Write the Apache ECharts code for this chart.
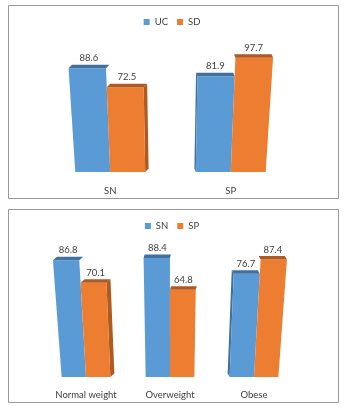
<!DOCTYPE html>
<html><head><meta charset="utf-8">
<script src="https://cdn.jsdelivr.net/npm/echarts@6/dist/echarts.min.js"></script>
<style>html,body{margin:0;padding:0;background:#fff}#c{width:344px;height:406px}</style>
</head><body><div id="c"></div>
<script>
// Panel 1
var cats1 = ['SN', 'SP'];
var uc = [88.6, 81.9];
var sd = [72.5, 97.7];
// Panel 2
var cats2 = ['Normal weight', 'Overweight', 'Obese'];
var sn = [86.8, 88.4, 76.7];
var sp = [70.1, 64.8, 87.4];

var BLUE = '#5B9BD5', BLUE_D = '#41719C', ORANGE = '#ED7D31', ORANGE_D = '#AE5A21';
var FONT = 'Lato, "Liberation Sans", sans-serif';
var CX = 171;

function render(sIdx, nS, frac, light, dark) {
  return function (params, api) {
    var cat = api.value(0), val = api.value(1);
    var topC = api.coord([cat, val]);
    var baseC = api.coord([cat, 0]);
    var cw = api.size([1, 0])[0];
    var bw = cw * frac;
    var x0 = topC[0] - bw * nS / 2 + sIdx * bw, x1 = x0 + bw;
    var h = baseC[1] - topC[1];
    var kk = 0.00068;
    function lean(x) { return x + (x - CX) * h * kk; }
    var TL = [lean(x0), topC[1]], TR = [lean(x1), topC[1]];
    var BL = [x0, baseC[1]], BR = [x1, baseC[1]];
    var gc = topC[0] - CX;
    var dx = Math.max(-3, Math.min(3, -gc * 0.04));
    var off = [dx + 1, -3.5];
    var children = [];
    var isLast = sIdx === nS - 1, isFirst = sIdx === 0;
    if (gc < -20 && isLast) {
      children.push({type: 'polygon', shape: {points: [TR, BR, [BR[0] + off[0], BR[1] + off[1]], [TR[0] + off[0], TR[1] + off[1]]]}, style: {fill: dark}});
    }
    if (gc > 20 && isFirst) {
      children.push({type: 'polygon', shape: {points: [TL, BL, [BL[0] + off[0], BL[1] + off[1]], [TL[0] + off[0], TL[1] + off[1]]]}, style: {fill: dark}});
    }
    children.push({type: 'polygon', shape: {points: [TL, TR, BR, BL]}, style: {fill: light}});
    children.push({type: 'polygon', shape: {points: [TL, TR, [TR[0] + off[0], TR[1] + off[1]], [TL[0] + off[0], TL[1] + off[1]]]}, style: {fill: dark}});
    children.push({type: 'text', style: {text: val.toFixed(1), x: (TL[0] + TR[0]) / 2 + off[0] / 2, y: TL[1] - 5, align: 'center', verticalAlign: 'bottom', fill: '#404040', font: '9.5px ' + FONT}});
    return {type: 'group', children: children};
  };
}

function toData(arr) { return arr.map(function (v, i) { return [i, v]; }); }

function ser(name, arr, gi, sIdx, light, dark) {
  return {
    type: 'custom', name: name, xAxisIndex: gi, yAxisIndex: gi,
    itemStyle: {color: light},
    encode: {x: 0, y: 1},
    data: toData(arr),
    renderItem: render(sIdx, 2, 0.29, light, dark)
  };
}

var xAx = function (gi, cats, m) {
  return {type: 'category', gridIndex: gi, data: cats, axisLine: {show: false}, axisTick: {show: false},
    axisLabel: {color: '#404040', fontSize: 9.5, fontFamily: FONT, margin: m}};
};
var yAx = function (gi) {
  return {type: 'value', gridIndex: gi, min: 0, max: 100, show: false, splitLine: {show: false}};
};
var legendBase = {icon: 'rect', itemWidth: 6, itemHeight: 6, itemGap: 9,
  textStyle: {color: '#404040', fontSize: 9.5, fontFamily: FONT}};

var chart = echarts.init(document.getElementById('c'));
chart.setOption({
  animation: false,
  graphic: [
    {type: 'rect', shape: {x: 8.5, y: 5.5, width: 330, height: 193}, style: {fill: 'none', stroke: '#9a9a9a', lineWidth: 1}, z: -1},
    {type: 'rect', shape: {x: 8.5, y: 209.5, width: 330, height: 193}, style: {fill: 'none', stroke: '#9a9a9a', lineWidth: 1}, z: -1}
  ],
  legend: [
    Object.assign({data: ['UC', 'SD'], top: 12, left: 'center'}, legendBase),
    Object.assign({data: ['SN', 'SP'], top: 216, left: 'center'}, legendBase)
  ],
  grid: [
    {left: 50, width: 241, top: 55, height: 117},
    {left: 44, width: 252, top: 242.5, height: 134.5}
  ],
  xAxis: [xAx(0, cats1, 14), xAx(1, cats2, 13)],
  yAxis: [yAx(0), yAx(1)],
  series: [
    ser('UC', uc, 0, 0, BLUE, BLUE_D),
    ser('SD', sd, 0, 1, ORANGE, ORANGE_D),
    ser('SN', sn, 1, 0, BLUE, BLUE_D),
    ser('SP', sp, 1, 1, ORANGE, ORANGE_D)
  ]
});
</script></body></html>
